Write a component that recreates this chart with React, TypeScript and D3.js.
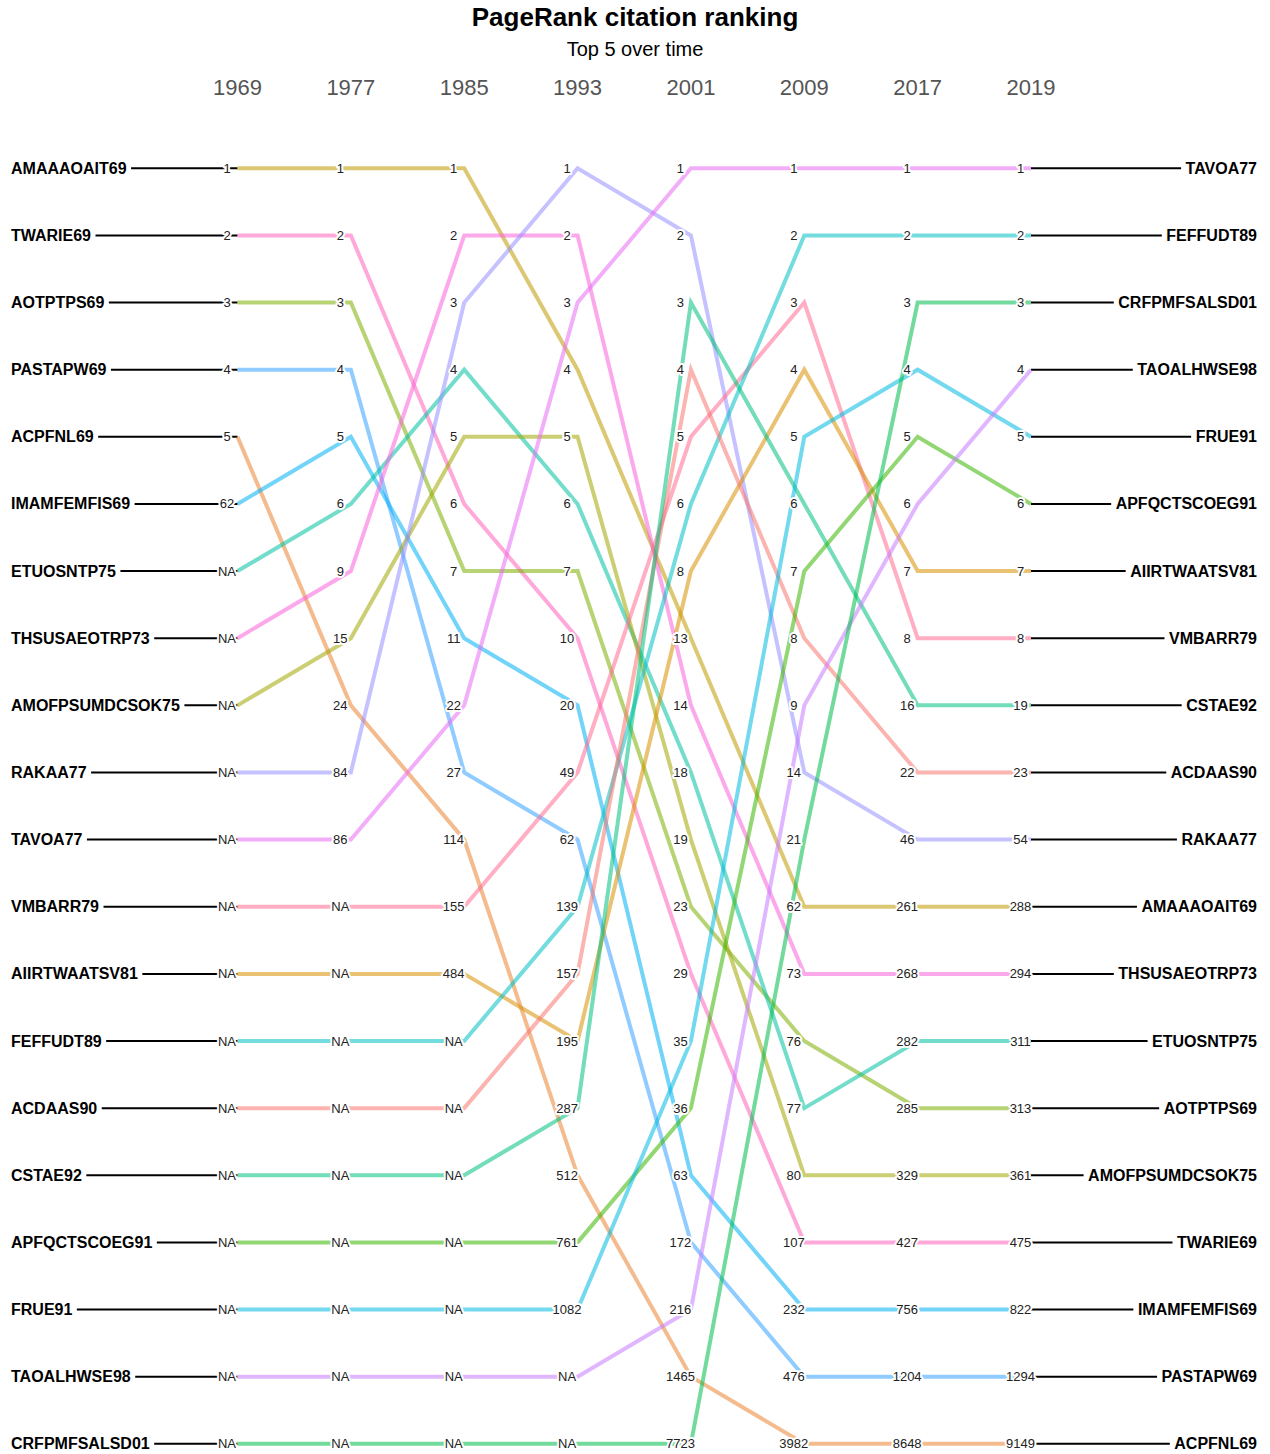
import React from 'react';
import * as d3 from 'd3';

const years = ['1969', '1977', '1985', '1993', '2001', '2009', '2017', '2019'];

const papers = [
  'AMAAAOAIT69', 'TWARIE69', 'AOTPTPS69', 'PASTAPW69', 'ACPFNL69',
  'IMAMFEMFIS69', 'ETUOSNTP75', 'THSUSAEOTRP73', 'AMOFPSUMDCSOK75', 'RAKAA77',
  'TAVOA77', 'VMBARR79', 'AIIRTWAATSV81', 'FEFFUDT89', 'ACDAAS90',
  'CSTAE92', 'APFQCTSCOEG91', 'FRUE91', 'TAOALHWSE98', 'CRFPMFSALSD01',
];

const paperColors = [
  '#C09B00', '#FF62BC', '#7CAE00', '#35A2FF', '#EA8331',
  '#00B0F6', '#00C1A3', '#FA62DB', '#A3A500', '#9590FF',
  '#E76BF3', '#FF6C91', '#D89000', '#00BFC4', '#F8766D',
  '#00BF7D', '#39B600', '#00BAE0', '#C77CFF', '#00BB4E',
];

const NA = null;
// ranks per year, in the order of `papers`
const rank1969 = [1, 2, 3, 4, 5, 62, NA, NA, NA, NA, NA, NA, NA, NA, NA, NA, NA, NA, NA, NA];
const rank1977 = [1, 2, 3, 4, 24, 5, 6, 9, 15, 84, 86, NA, NA, NA, NA, NA, NA, NA, NA, NA];
const rank1985 = [1, 6, 7, 27, 114, 11, 4, 2, 5, 3, 22, 155, 484, NA, NA, NA, NA, NA, NA, NA];
const rank1993 = [4, 10, 7, 62, 512, 20, 6, 2, 5, 1, 3, 49, 195, 139, 157, 287, 761, 1082, NA, NA];
const rank2001 = [13, 29, 23, 172, 1465, 63, 18, 14, 19, 2, 1, 5, 8, 6, 4, 3, 36, 35, 216, 7723];
const rank2009 = [62, 107, 76, 476, 3982, 232, 77, 73, 80, 14, 1, 3, 4, 2, 8, 6, 7, 5, 9, 21];
const rank2017 = [261, 427, 285, 1204, 8648, 756, 282, 268, 329, 46, 1, 8, 7, 2, 22, 16, 5, 4, 6, 3];
const rank2019 = [288, 475, 313, 1294, 9149, 822, 311, 294, 361, 54, 1, 8, 7, 2, 23, 19, 6, 5, 4, 3];

const ranks: (number | null)[][] = [rank1969, rank1977, rank1985, rank1993, rank2001, rank2009, rank2017, rank2019];

const FONT = '"Liberation Sans", Arial, Helvetica, sans-serif';

let measureCtx: CanvasRenderingContext2D | null = null;
function textWidth(s: string, font: string): number {
  if (!measureCtx) {
    const c = document.createElement('canvas');
    measureCtx = c.getContext('2d');
  }
  if (!measureCtx) return s.length * 9.5;
  measureCtx.font = font;
  return measureCtx.measureText(s).width;
}

export default function App() {
  const W = 1270;
  const H = 1454;
  const n = papers.length;
  const x = d3.scalePoint<string>().domain(years).range([237.5, 1031]);
  const y = d3.scaleLinear().domain([0, n - 1]).range([168.3, 1443.8]);

  // slot (row) of each paper in each year column
  const slots: number[][] = ranks.map((col) => {
    const order = d3.range(n).sort((a, b) => {
      const ra = col[a];
      const rb = col[b];
      if (ra == null && rb == null) return a - b;
      if (ra == null) return 1;
      if (rb == null) return -1;
      return ra - rb;
    });
    const s: number[] = new Array(n);
    order.forEach((p, i) => { s[p] = i; });
    return s;
  });

  const line = d3.line<[number, number]>().x((d) => d[0]).y((d) => d[1]);
  const firstX = x(years[0]) as number;
  const lastX = x(years[years.length - 1]) as number;
  const lastSlots = slots[slots.length - 1];
  const nameFont = 'bold 16px "Liberation Sans", Arial, sans-serif';
  const nameLeft = 11;
  const nameRight = 1257;
  const gap = 4.5;

  return (
    <svg width={W} height={H} style={{ position: 'absolute', left: 0, top: 0, background: '#fff' }}
      fontFamily={FONT}>
      <text x={W / 2} y={26} textAnchor="middle" fontSize={26} fontWeight="bold" fill="#000">
        PageRank citation ranking
      </text>
      <text x={W / 2} y={56} textAnchor="middle" fontSize={20} fill="#000">Top 5 over time</text>
      {years.map((yr) => (
        <text key={yr} x={x(yr)} y={95} textAnchor="middle" fontSize={22} fill="#555">{yr}</text>
      ))}

      {/* left connector lines */}
      {papers.map((p, i) => (
        <line key={'ll' + p} x1={nameLeft + textWidth(p, nameFont) + gap} x2={firstX}
          y1={y(slots[0][i])} y2={y(slots[0][i])} stroke="#000" strokeWidth={2} />
      ))}
      {/* right connector lines */}
      {papers.map((p, i) => (
        <line key={'rl' + p} x1={lastX} x2={nameRight - textWidth(p, nameFont) - gap}
          y1={y(lastSlots[i])} y2={y(lastSlots[i])} stroke="#000" strokeWidth={2} />
      ))}

      {/* bump lines */}
      {papers.map((p, i) => {
        const pts: [number, number][] = years.map((yr, j) => [x(yr) as number, y(slots[j][i])]);
        return (
          <path key={'bl' + p} d={line(pts) || ''} fill="none" stroke={paperColors[i]}
            strokeOpacity={0.55} strokeWidth={4} />
        );
      })}

      {/* rank labels */}
      {years.map((yr, j) => (
        <g key={'lab' + yr}>
          {papers.map((p, i) => {
            const r = ranks[j][i];
            return (
              <text key={p} x={(x(yr) as number) - 10.5} y={y(slots[j][i])} textAnchor="middle"
                dominantBaseline="central" fontSize={13} fill="#222" stroke="#fff" strokeWidth={4}
                strokeLinejoin="round" style={{ paintOrder: 'stroke' }}>
                {r == null ? 'NA' : String(r)}
              </text>
            );
          })}
        </g>
      ))}

      {/* left names */}
      {papers.map((p, i) => (
        <text key={'ln' + p} x={nameLeft} y={y(slots[0][i])} dominantBaseline="central" fontSize={16}
          fontWeight="bold" fill="#000">
          {p}
        </text>
      ))}
      {/* right names */}
      {papers.map((p, i) => (
        <text key={'rn' + p} x={nameRight} y={y(lastSlots[i])} textAnchor="end" dominantBaseline="central"
          fontSize={16} fontWeight="bold" fill="#000">
          {p}
        </text>
      ))}
    </svg>
  );
}
